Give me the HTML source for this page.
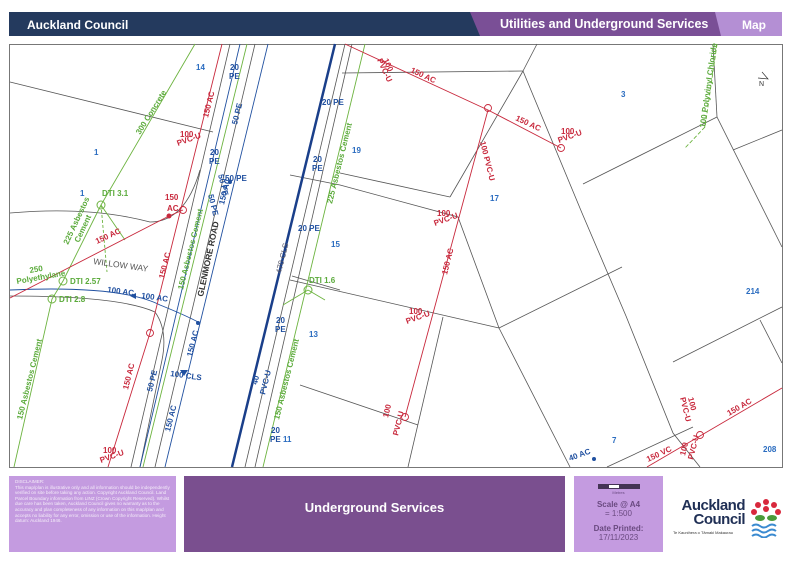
<!DOCTYPE html>
<html><head><meta charset="utf-8"><style>
body{margin:0;width:800px;height:562px;background:#fff;overflow:hidden;font-family:"Liberation Sans Narrow","Liberation Sans",sans-serif;position:relative}
.a{position:absolute}
</style></head><body>
<div class="a" style="left:9px;top:12px;width:773px;height:24px;background:#243a5e"></div>
<div class="a" style="left:470px;top:12px;width:312px;height:24px;background:#7a4f96;clip-path:polygon(0 0,100% 0,100% 100%,10px 100%)"></div>
<div class="a" style="left:715px;top:12px;width:67px;height:24px;background:#b48fd4;clip-path:polygon(0 0,100% 0,100% 100%,6px 100%)"></div>
<div class="a" style="left:27px;top:18px;color:#fff;font-weight:bold;font-size:12px">Auckland Council</div>
<div class="a" style="left:500px;top:17px;color:#fff;font-weight:bold;font-size:12.5px">Utilities and Underground Services</div>
<div class="a" style="left:742px;top:18px;color:#fff;font-weight:bold;font-size:12px">Map</div>

<svg class="a" style="left:0;top:0" width="800" height="562" font-family="Liberation Sans Narrow, Liberation Sans, sans-serif" font-size="8" font-weight="bold">
<rect x="9.5" y="44.5" width="773" height="423" fill="#fff" stroke="#777"/>
<g fill="none" stroke="#555" stroke-width="0.8">
<line x1="10" y1="82" x2="213" y2="132"/>
<path d="M10 213 Q90 206 150 222 Q185 222 200 170"/>
<path d="M10 296 Q120 296 155 312 Q168 330 162 360 L140 467"/>
<line x1="342" y1="73" x2="523" y2="71"/>
<line x1="523" y1="71" x2="537" y2="44"/>
<line x1="523" y1="71" x2="450" y2="197"/>
<polyline points="523,71 582,213 626,316 673,433 700,467"/>
<line x1="340" y1="173" x2="450" y2="197"/>
<polyline points="340,185 458,217 499,328 570,467"/>
<line x1="290" y1="280" x2="499" y2="328"/>
<line x1="499" y1="328" x2="622" y2="267"/>
<line x1="583" y1="184" x2="717" y2="117"/>
<line x1="717" y1="117" x2="713" y2="44"/>
<line x1="717" y1="117" x2="782" y2="247"/>
<line x1="733" y1="150" x2="782" y2="130"/>
<line x1="673" y1="362" x2="782" y2="307"/>
<line x1="760" y1="320" x2="782" y2="363"/>
<line x1="300" y1="385" x2="418" y2="425"/>
<line x1="443" y1="317" x2="408" y2="467"/>
<line x1="607" y1="467" x2="693" y2="427"/>
<line x1="230" y1="44" x2="131" y2="467"/>
<line x1="345" y1="44" x2="245" y2="467"/>
<line x1="255" y1="44" x2="155" y2="467"/>
<line x1="352" y1="44" x2="255" y2="467"/>
<line x1="292" y1="276" x2="340" y2="290"/>
<line x1="290" y1="175" x2="340" y2="185"/>
</g>
<g fill="none" stroke="#2050a0" stroke-width="0.9">
<line x1="240" y1="44" x2="140" y2="467"/>
<line x1="268" y1="44" x2="165" y2="467"/>
<path d="M10 290 Q120 285 160 305 Q185 315 200 323"/>
</g>
<line x1="335" y1="44" x2="232" y2="467" stroke="#1a3f8a" stroke-width="2.5"/>
<g fill="none" stroke="#6cb33f" stroke-width="0.9">
<polyline points="195,44 101,205 63,281 52,299 14,467"/>
<line x1="247" y1="44" x2="143" y2="467"/>
<line x1="365" y1="44" x2="263" y2="467"/>
<polyline points="717,44 705,127 685,148" stroke-dasharray="4,2"/>
<line x1="101" y1="205" x2="107" y2="272" stroke-dasharray="3,2"/>
<line x1="101" y1="205" x2="125" y2="240"/>
<line x1="308" y1="290" x2="283" y2="305"/>
<line x1="308" y1="290" x2="325" y2="300"/>
</g>
<g fill="none" stroke="#c8283c" stroke-width="0.9">
<polyline points="222,44 150,333 108,467"/>
<polyline points="10,298 169,216 183,210"/>
<polyline points="345,44 488,110 561,148"/>
<line x1="488" y1="110" x2="405" y2="417"/>
<line x1="647" y1="467" x2="782" y2="388"/>
<circle cx="488" cy="108" r="3.5"/><circle cx="561" cy="148" r="3.5"/>
<circle cx="150" cy="333" r="3.5"/><circle cx="183" cy="210" r="3.5"/>
<circle cx="405" cy="417" r="3.5"/><circle cx="700" cy="435" r="3.5"/>
</g>
<circle cx="169" cy="216" r="2.5" fill="#c8283c"/>
<g fill="none" stroke="#6cb33f" stroke-width="1"><circle cx="101" cy="205" r="4"/><circle cx="63" cy="281" r="4"/><circle cx="52" cy="299" r="4"/><circle cx="308" cy="290" r="4"/></g>
<g fill="#2050a0"><circle cx="198" cy="323" r="2"/><circle cx="230" cy="182" r="2"/><circle cx="594" cy="459" r="2"/><polygon points="180,370 188,370 184,376"/><polygon points="130,296 136,293 136,299"/></g>

<g fill="#2a6cc0" font-family="Liberation Sans, sans-serif">
<text x="196" y="70">14</text><text x="94" y="155">1</text><text x="80" y="196">1</text><text x="621" y="97">3</text>
<text x="352" y="153">19</text><text x="490" y="201">17</text><text x="331" y="247">15</text><text x="309" y="337">13</text>
<text x="283" y="442">11</text><text x="746" y="294">214</text><text x="612" y="443">7</text><text x="763" y="452">208</text>
</g>
<g fill="#c8283c">
<text transform="translate(208,118) rotate(-76)">150 AC</text>
<text transform="translate(180,137)">100</text><text transform="translate(178,146) rotate(-20)">PVC-U</text>
<text transform="translate(165,200)">150</text><text transform="translate(167,211)">AC</text>
<text transform="translate(97,244) rotate(-25)">150 AC</text>
<text transform="translate(164,279) rotate(-76)">150 AC</text>
<text transform="translate(128,390) rotate(-76)">150 AC</text>
<text transform="translate(103,453)">100</text><text transform="translate(101,463) rotate(-20)">PVC-U</text>
<text transform="translate(383,60) rotate(65)">100</text><text transform="translate(377,60) rotate(65)">PVC-U</text>
<text transform="translate(410,72) rotate(25)">150 AC</text>
<text transform="translate(515,120) rotate(25)">150 AC</text>
<text transform="translate(561,134)">100</text><text transform="translate(559,143) rotate(-20)">PVC-U</text>
<text transform="translate(480,142) rotate(76)">100 PVC-U</text>
<text transform="translate(437,216)">100</text><text transform="translate(435,226) rotate(-20)">PVC-U</text>
<text transform="translate(447,275) rotate(-76)">150 AC</text>
<text transform="translate(409,314)">100</text><text transform="translate(407,324) rotate(-20)">PVC-U</text>
<text transform="translate(388,418) rotate(-76)">100</text><text transform="translate(398,436) rotate(-76)">PVC-U</text>
<text transform="translate(688,398) rotate(76)">100</text><text transform="translate(680,398) rotate(76)">PVC-U</text>
<text transform="translate(729,416) rotate(-30)">150 AC</text>
<text transform="translate(648,462) rotate(-25)">150 VC</text>
<text transform="translate(685,456) rotate(-76)">100</text><text transform="translate(693,460) rotate(-76)">PVC-U</text>
</g>
<g fill="#2050a0">
<text x="230" y="70">20</text><text x="229" y="79">PE</text>
<text transform="translate(237,125) rotate(-76)">50 PE</text>
<text x="210" y="155">20</text><text x="209" y="164">PE</text>
<text transform="translate(208,195) rotate(76)">50 PE</text>
<text transform="translate(218,175) rotate(76)">50 PE</text>
<text x="225" y="181">50 PE</text>
<text transform="translate(224,205) rotate(-76)">150 AC</text>
<text transform="translate(322,105)">20 PE</text>
<text x="313" y="162">20</text><text x="312" y="171">PE</text>
<text x="298" y="231">20 PE</text>
<text x="276" y="323">20</text><text x="275" y="332">PE</text>
<text x="107" y="292" transform="rotate(8,107,292)">100 AC</text>
<text x="141" y="298" transform="rotate(8,141,298)">100 AC</text>
<text transform="translate(192,357) rotate(-76)">150 AC</text>
<text x="170" y="376" transform="rotate(8,170,376)">100 CLS</text>
<text transform="translate(152,392) rotate(-76)">50 PE</text>
<text transform="translate(170,432) rotate(-76)">150 AC</text>
<text transform="translate(257,385) rotate(-76)">40</text><text transform="translate(265,395) rotate(-76)">PVC-U</text>
<text x="271" y="433">20</text><text x="270" y="442">PE</text>
<text x="570" y="461" transform="rotate(-20,570,461)">40 AC</text>
</g>
<text transform="translate(281,274) rotate(-76)" fill="#556" font-weight="normal">470 CLS</text>
<g fill="#5aaa3a">
<text transform="translate(140,135) rotate(-58)">300 Concrete</text>
<text transform="translate(68,245) rotate(-65)">225 Asbestos</text><text transform="translate(79,243) rotate(-65)">Cement</text>
<text x="102" y="196">DTI 3.1</text>
<text x="30" y="273" transform="rotate(-10,30,273)">250</text><text x="17" y="284" transform="rotate(-10,17,284)">Polyethylane</text>
<text x="70" y="284">DTI 2.57</text><text x="59" y="302">DTI 2.8</text>
<text transform="translate(183,290) rotate(-76)">150 Asbestos Cement</text>
<text transform="translate(22,420) rotate(-76)">150 Asbestos Cement</text>
<text transform="translate(332,204) rotate(-76)">225 Asbestos Cement</text>
<text x="309" y="283">DTI 1.6</text>
<text transform="translate(279,420) rotate(-76)">150 Asbestos Cement</text>
<text transform="translate(705,128) rotate(-82)">100 Polyvinyl Chloride</text>
</g>
<text x="203" y="297" transform="rotate(-78,203,297)" fill="#333" font-size="8.5">GLENMORE ROAD</text>
<text x="93" y="264" transform="rotate(8,93,264)" fill="#555" font-size="8.5" font-weight="normal">WILLOW WAY</text>
<text x="759" y="86" fill="#333" font-size="7" font-weight="normal">N</text>
<path d="M762 72 L768 79 L758 78" fill="none" stroke="#333" stroke-width="0.7"/>
</svg>

<div class="a" style="left:9px;top:476px;width:167px;height:76px;background:#c49be0;color:#f4ecf8;font-size:4.6px;line-height:5.6px;padding:3px 6px;box-sizing:border-box;font-family:'Liberation Sans',sans-serif">DISCLAIMER:<br>This map/plan is illustrative only and all information should be independently verified on site before taking any action. Copyright Auckland Council. Land Parcel Boundary information from LINZ (Crown Copyright Reserved). Whilst due care has been taken, Auckland Council gives no warranty as to the accuracy and plan completeness of any information on this map/plan and accepts no liability for any error, omission or use of the information. Height datum: Auckland 1946.</div>
<div class="a" style="left:184px;top:476px;width:381px;height:76px;background:#7a4f8f;color:#fff;font-weight:bold;font-size:13px;text-align:center;line-height:64px">Underground Services</div>
<div class="a" style="left:574px;top:476px;width:89px;height:76px;background:#c49be0;text-align:center;color:#6a4a80;font-size:8px">
<div style="margin:8px auto 0;width:40px;height:3px;border:1px solid #435;background:linear-gradient(90deg,#435 25%,#fff 25%,#fff 50%,#435 50%)"></div>
<div style="font-size:4px;margin-top:1px">Metres</div>
<div style="font-weight:bold;margin-top:5px">Scale @ A4</div><div>= 1:500</div>
<div style="font-weight:bold;margin-top:6px">Date Printed:</div><div>17/11/2023</div></div>
<div class="a" style="left:678px;top:499px;color:#1f2f55;font-weight:bold;font-size:15px;line-height:14px;text-align:right;width:67px;font-family:'Liberation Sans',sans-serif;letter-spacing:-0.5px">Auckland<br>Council</div>
<div class="a" style="left:673px;top:530px;font-size:4px;color:#333;font-family:'Liberation Sans',sans-serif">Te Kaunihera o Tāmaki Makaurau</div>
<svg class="a" style="left:748px;top:496px" width="36" height="42"><g fill="#d8283c"><circle cx="18" cy="6" r="3"/><circle cx="10" cy="9" r="3"/><circle cx="26" cy="9" r="3"/><circle cx="6" cy="16" r="3"/><circle cx="30" cy="16" r="3"/><circle cx="18" cy="13" r="3"/></g><g fill="#4a9a3a"><ellipse cx="12" cy="22" rx="5" ry="3"/><ellipse cx="24" cy="22" rx="5" ry="3"/></g><g stroke="#3a8ad0" stroke-width="2" fill="none"><path d="M4 30 q4-3 8 0 t8 0 t8 0"/><path d="M4 35 q4-3 8 0 t8 0 t8 0"/><path d="M4 40 q4-3 8 0 t8 0 t8 0"/></g></svg>
</body></html>
